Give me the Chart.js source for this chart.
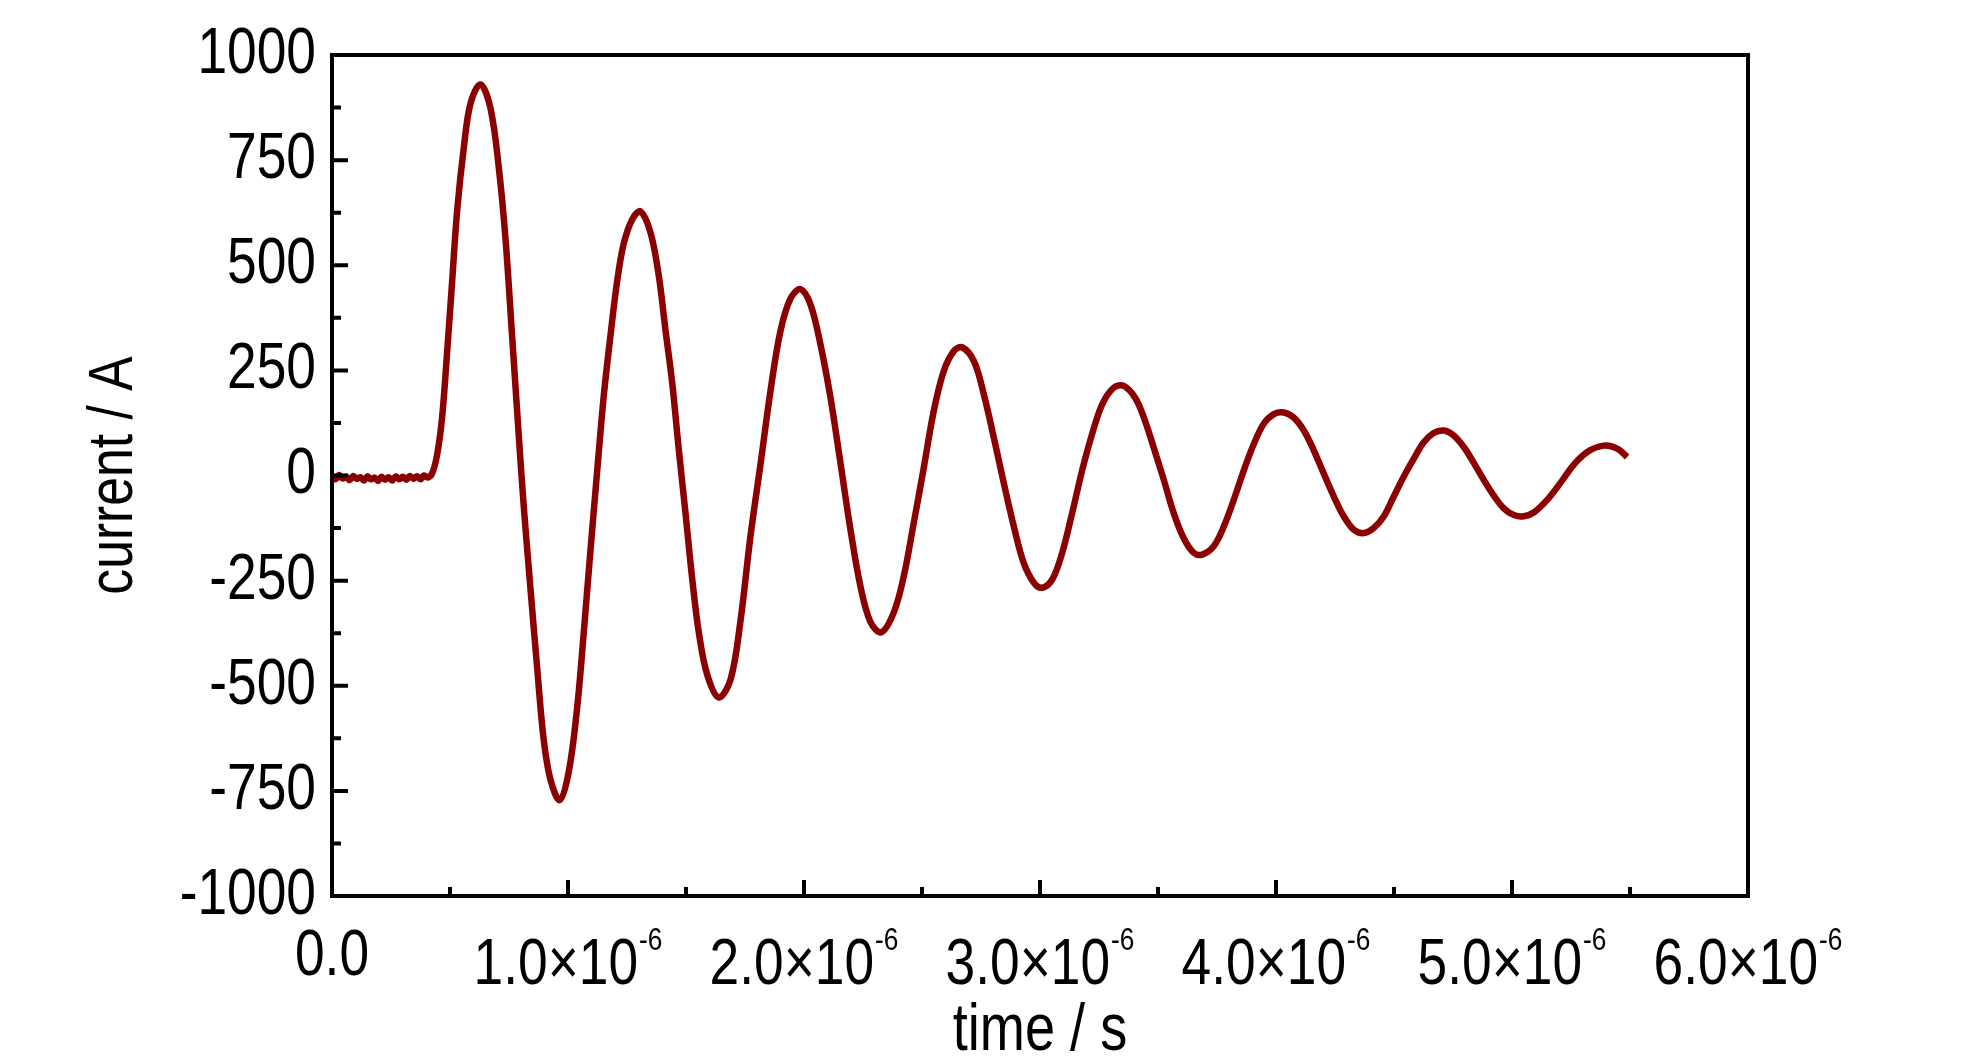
<!DOCTYPE html>
<html>
<head>
<meta charset="utf-8">
<script src="https://cdn.jsdelivr.net/npm/chart.js@4.4.0/dist/chart.umd.min.js"></script>
<style>
html,body{margin:0;padding:0;background:#fff;}
#wrap{width:1984px;height:1063px;}
</style>
</head>
<body>
<div id="wrap"><canvas id="c" width="1984" height="1063"></canvas></div>
<script>
// time values in microseconds (axis is in seconds: t * 1e-6)
const timeMicro = [
  0.000,0.015,0.030,0.045,0.060,0.075,0.090,0.105,0.120,0.135,0.150,0.165,0.180,0.195,
  0.210,0.225,0.240,0.255,0.270,0.285,0.300,0.315,0.330,0.345,0.360,0.375,0.390,0.405,0.425,
  0.446,0.467,0.488,0.509,0.530,0.559,0.587,0.629,0.672,0.707,0.735,0.763,0.792,0.813,
  0.841,0.870,0.897,0.926,0.965,1.003,1.039,1.067,1.095,1.124,1.152,1.180,1.208,1.236,
  1.272,1.307,1.350,1.385,1.413,1.442,1.469,1.498,1.526,1.554,1.590,1.639,1.689,1.731,
  1.773,1.816,1.858,1.900,1.943,1.985,2.028,2.070,2.112,2.155,2.197,2.239,2.282,2.328,
  2.381,2.423,2.465,2.508,2.550,2.592,2.635,2.670,2.720,2.762,2.804,2.847,2.889,2.931,
  2.974,3.009,3.052,3.094,3.136,3.179,3.221,3.264,3.313,3.355,3.405,3.445,3.482,3.525,
  3.567,3.609,3.652,3.687,3.736,3.779,3.821,3.864,3.906,3.948,3.991,4.033,4.075,4.118,
  4.160,4.202,4.245,4.287,4.330,4.372,4.414,4.457,4.499,4.541,4.584,4.626,4.668,4.711,
  4.753,4.798,4.838,4.880,4.923,4.965,5.008,5.050,5.092,5.149,5.206,5.262,5.319,5.389,
  5.446,5.488
];
const currentA = [
  -2,-9,1,-7,-3,-11,-1,-8,-4,-12,-2,-9,-5,-13,
  -3,-10,-4,-12,-2,-9,-3,-10,-1,-8,-2,-9,0,-5,6,
  51,141,295,461,628,782,885,930,872,731,564,333,90,-77,
  -269,-462,-628,-724,-772,-705,-551,-372,-179,13,192,333,461,551,
  609,628,577,474,346,218,64,-90,-244,-372,-474,-528,-485,-345,
  -145,28,201,343,421,443,406,311,186,28,-129,-263,-349,-373,
  -325,-239,-113,20,154,248,296,305,272,193,91,-19,-121,-208,
  -255,-267,-247,-184,-90,13,99,170,209,213,183,130,66,-11,
  -90,-149,-184,-188,-168,-121,-58,13,75,123,146,150,138,107,
  60,5,-50,-97,-129,-137,-125,-97,-50,-3,40,79,101,107,
  95,66,30,-10,-48,-78,-94,-97,-88,-58,-17,26,56,71,
  64,44
];

const yTickValues = [-1000,-750,-500,-250,0,250,500,750,1000];
const yMinorTickValues = [-875,-625,-375,-125,125,375,625,875];
const xTickValues = [0,1e-6,2e-6,3e-6,4e-6,5e-6,6e-6];
const xMinorTickValues = [0.5e-6,1.5e-6,2.5e-6,3.5e-6,4.5e-6,5.5e-6];
const xTickLabels = ['0.0','1.0\u00d710','2.0\u00d710','3.0\u00d710','4.0\u00d710','5.0\u00d710','6.0\u00d710'];
const xTickSuperscripts = ['','-6','-6','-6','-6','-6','-6'];

const FONT = "'Liberation Sans',Arial,sans-serif";
const NARROW = 0.82;          // horizontal compression to imitate a narrow face
const LABEL_SIZE = 65;
const SUP_SIZE = 32;

const points = timeMicro.map((t, i) => ({ x: t * 1e-6, y: currentA[i] }));

const canvas = document.getElementById('c');
const ctx2d = canvas.getContext('2d');
const nativeFillText = ctx2d.fillText.bind(ctx2d);
ctx2d.fillText = function (text, x, y) {
  this.save();
  this.translate(x, y);
  this.scale(NARROW, 1);
  nativeFillText(text, 0, 0);
  this.restore();
};

const framePlugin = {
  id: 'frameTicks',
  afterDraw(chart) {
    const { ctx, chartArea: a, scales: { x, y } } = chart;
    ctx.save();
    ctx.strokeStyle = '#000';
    ctx.lineWidth = 4;
    ctx.lineCap = 'butt';
    ctx.beginPath();
    yTickValues.forEach(v => { const p = y.getPixelForValue(v); ctx.moveTo(a.left, p); ctx.lineTo(a.left + 16, p); });
    yMinorTickValues.forEach(v => { const p = y.getPixelForValue(v); ctx.moveTo(a.left, p); ctx.lineTo(a.left + 9, p); });
    xTickValues.forEach(v => { const p = x.getPixelForValue(v); ctx.moveTo(p, a.bottom); ctx.lineTo(p, a.bottom - 16); });
    xMinorTickValues.forEach(v => { const p = x.getPixelForValue(v); ctx.moveTo(p, a.bottom); ctx.lineTo(p, a.bottom - 9); });
    ctx.stroke();
    ctx.strokeRect(a.left, a.top, a.right - a.left, a.bottom - a.top);

    ctx.fillStyle = '#000';
    ctx.textBaseline = 'alphabetic';
    ctx.textAlign = 'left';
    xTickValues.forEach((v, i) => {
      const main = xTickLabels[i];
      const sup = xTickSuperscripts[i];
      ctx.font = LABEL_SIZE + 'px ' + FONT;
      const w1 = ctx.measureText(main).width * NARROW;
      ctx.font = SUP_SIZE + 'px ' + FONT;
      const w2 = sup ? ctx.measureText(sup).width * NARROW + 1 : 0;
      const x0 = x.getPixelForValue(v) - (w1 + w2) / 2;
      const base = sup ? a.bottom + 88 : a.bottom + 79;
      ctx.font = LABEL_SIZE + 'px ' + FONT;
      ctx.fillText(main, x0, base);
      if (sup) {
        ctx.font = SUP_SIZE + 'px ' + FONT;
        ctx.fillText(sup, x0 + w1 + 1, base - 34);
      }
    });
    ctx.restore();
  }
};

new Chart(canvas, {
  type: 'line',
  data: {
    datasets: [{
      data: points,
      borderColor: '#8b0000',
      backgroundColor: '#8b0000',
      borderWidth: 6.5,
      pointRadius: 0,
      fill: false,
      tension: 0.35
    }]
  },
  options: {
    responsive: false,
    animation: false,
    devicePixelRatio: 1,
    layout: { padding: { top: 48, right: 236, left: 0, bottom: 0 } },
    plugins: { legend: { display: false }, tooltip: { enabled: false } },
    scales: {
      x: {
        type: 'linear',
        min: 0,
        max: 6e-6,
        grid: { display: false },
        border: { display: false },
        ticks: { display: false },
        afterBuildTicks: s => { s.ticks = xTickValues.map(v => ({ value: v })); },
        afterFit: s => { s.height = 167; },
        title: {
          display: true,
          text: 'time / s',
          color: '#000',
          font: { family: FONT, size: 66, lineHeight: 0.95 },
          padding: { top: 0, bottom: 0 }
        }
      },
      y: {
        type: 'linear',
        min: -1000,
        max: 1000,
        grid: { display: false, drawTicks: false },
        border: { display: false },
        afterBuildTicks: s => { s.ticks = yTickValues.map(v => ({ value: v })); },
        ticks: {
          color: '#000',
          padding: 16,
          font: { family: FONT, size: LABEL_SIZE },
          callback: v => String(v)
        },
        afterFit: s => { s.width = 332; },
        title: {
          display: true,
          text: 'current / A',
          color: '#000',
          font: { family: FONT, size: 63 },
          padding: { top: 77, bottom: 0 }
        }
      }
    }
  },
  plugins: [framePlugin]
});
</script>
</body>
</html>
